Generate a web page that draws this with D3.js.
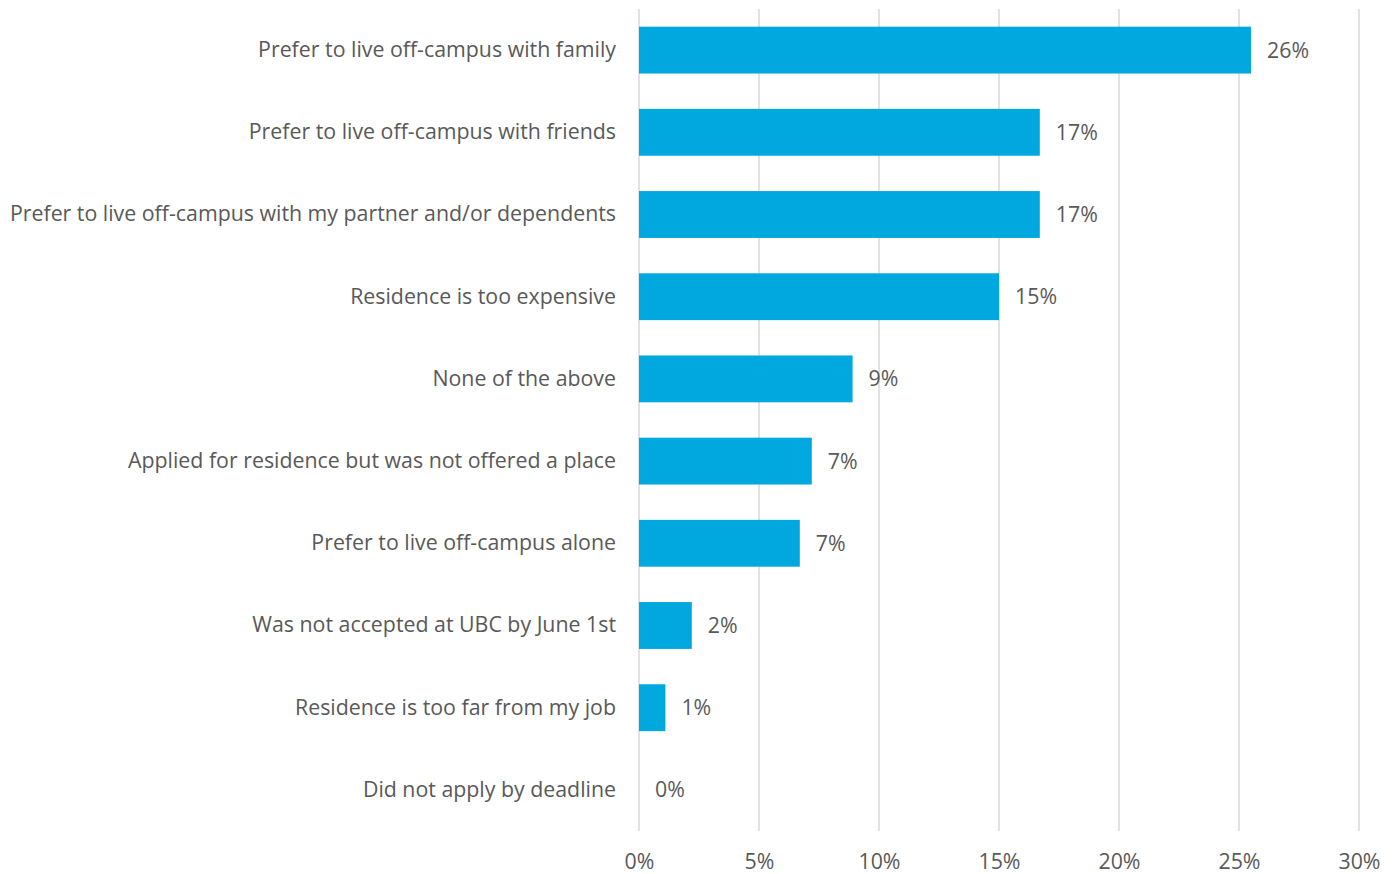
<!DOCTYPE html>
<html>
<head>
<meta charset="utf-8">
<script src="https://cdn.jsdelivr.net/npm/d3@7"></script>
<style>
  html, body { margin: 0; padding: 0; background: #ffffff; }
  svg { display: block; }
  text { font-family: "Open Sans", Lato, sans-serif; fill: #595959; }
</style>
</head>
<body>
<svg id="chart" width="1397" height="874"></svg>
<script>
// Reasons for not living in residence (share of respondents, %)
const categories = [
  "Prefer to live off-campus with family",
  "Prefer to live off-campus with friends",
  "Prefer to live off-campus with my partner and/or dependents",
  "Residence is too expensive",
  "None of the above",
  "Applied for residence but was not offered a place",
  "Prefer to live off-campus alone",
  "Was not accepted at UBC by June 1st",
  "Residence is too far from my job",
  "Did not apply by deadline"
];
const shares = [25.5, 16.7, 16.7, 15.0, 8.9, 7.2, 6.7, 2.2, 1.1, 0.0];
const tickValues = [0, 5, 10, 15, 20, 25, 30];

const svg = d3.select("#chart");
const margin = { top: 9, right: 38, bottom: 43, left: 639 };
const width = 1397 - margin.left - margin.right;
const height = 874 - margin.top - margin.bottom;
const labelGap = 23;

const WEIGHT = 400;

// pick a font size so the longest category label fills the left margin (starting near x=10)
const probe = svg.append("text").style("font-size", "20px").style("font-weight", WEIGHT)
  .text(categories.reduce((a, b) => (a.length > b.length ? a : b)));
const probeW = probe.node().getComputedTextLength();
probe.remove();
const fontPx = Math.min(24, 20 * (margin.left - labelGap - 10) / probeW);
const FONT = fontPx.toFixed(2) + "px";

const g = svg.append("g").attr("transform", `translate(${margin.left},${margin.top})`);

const x = d3.scaleLinear().domain([0, 30]).range([0, width]);
const y = d3.scaleBand().domain(categories).range([0, height])
  .paddingInner(0.43).paddingOuter(0.215);

// vertical gridlines
g.append("g").selectAll("line")
  .data(tickValues)
  .join("line")
  .attr("x1", d => x(d)).attr("x2", d => x(d))
  .attr("y1", 0).attr("y2", height)
  .attr("stroke", "#d9d9d9")
  .attr("stroke-width", 1.5);

// x axis tick labels
const xAxis = d3.axisBottom(x).tickValues(tickValues).tickFormat(d => d + "%").tickSize(0).tickPadding(0);
const axG = g.append("g").attr("transform", `translate(0,${height})`).call(xAxis);
axG.select(".domain").remove();
axG.selectAll("text")
  .attr("y", 31)
  .attr("dy", "0.35em")
  .style("font-size", FONT)
  .style("font-weight", WEIGHT)
  .attr("fill", "#595959");

// y axis category labels
const yAxis = d3.axisLeft(y).tickSize(0).tickPadding(labelGap);
const ayG = g.append("g").call(yAxis);
ayG.select(".domain").remove();
ayG.selectAll("text")
  .style("font-size", FONT)
  .style("font-weight", WEIGHT)
  .attr("fill", "#595959");

// bars
const data = categories.map((c, i) => ({ cat: c, v: shares[i] }));
g.append("g").selectAll("rect")
  .data(data)
  .join("rect")
  .attr("x", x(0))
  .attr("y", d => y(d.cat))
  .attr("width", d => x(d.v) - x(0))
  .attr("height", y.bandwidth())
  .attr("fill", "#00a8e0");

// value labels
g.append("g").selectAll("text")
  .data(data)
  .join("text")
  .attr("x", d => x(d.v) + 16)
  .attr("y", d => y(d.cat) + y.bandwidth() / 2)
  .attr("dy", "0.35em")
  .style("font-size", FONT)
  .style("font-weight", WEIGHT)
  .text(d => Math.round(d.v) + "%");
</script>
</body>
</html>
